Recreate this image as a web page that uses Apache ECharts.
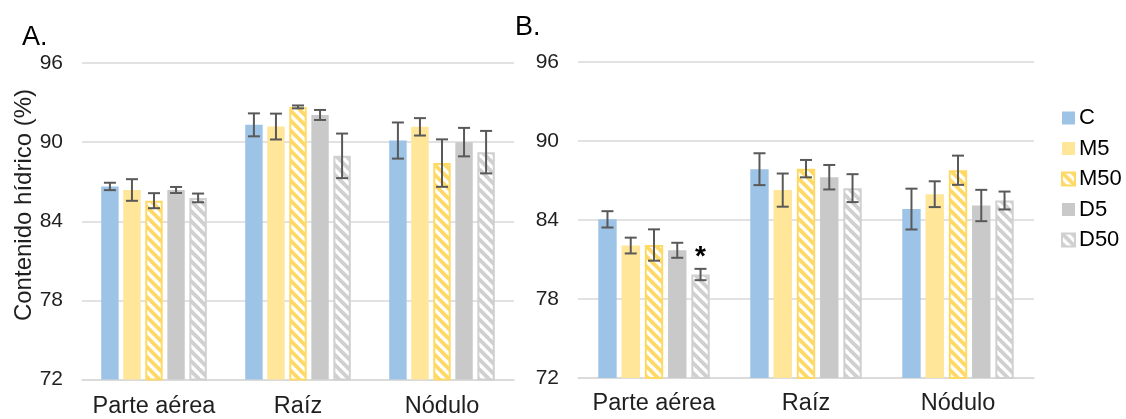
<!DOCTYPE html>
<html>
<head>
<meta charset="utf-8">
<script src="https://cdn.jsdelivr.net/npm/echarts@6/dist/echarts.min.js"></script>
<style>
  html, body { margin: 0; padding: 0; background: #ffffff; }
  #chart { width: 1126px; height: 419px; }
</style>
</head>
<body>
<div id="chart"></div>
<script>
// Water content (%) by plant part, two experiments (A and B)
const categories = ['Parte aérea', 'Raíz', 'Nódulo'];
const seriesNames = ['C', 'M5', 'M50', 'D5', 'D50'];
const yTicks = [72, 78, 84, 90, 96];

// Panel A: means and error (±)
const meanA_C   = [86.64, 91.31, 90.12];
const meanA_M5  = [86.37, 91.18, 91.16];
const meanA_M50 = [85.56, 92.67, 88.41];
const meanA_D5  = [86.37, 92.06, 90.00];
const meanA_D50 = [85.77, 88.96, 89.24];
const errA_C    = [0.28, 0.87, 1.37];
const errA_M5   = [0.82, 0.98, 0.66];
const errA_M50  = [0.57, 0.11, 1.80];
const errA_D5   = [0.23, 0.38, 1.08];
const errA_D50  = [0.33, 1.69, 1.61];

// Panel B: means and error (±)
const meanB_C   = [84.05, 87.86, 84.83];
const meanB_M5  = [82.06, 86.27, 85.96];
const meanB_M50 = [82.10, 87.90, 87.78];
const meanB_D5  = [81.70, 87.25, 85.10];
const meanB_D50 = [79.86, 86.42, 85.48];
const errB_C    = [0.62, 1.21, 1.55];
const errB_M5   = [0.60, 1.26, 0.98];
const errB_M50  = [1.19, 0.66, 1.11];
const errB_D5   = [0.57, 0.93, 1.19];
const errB_D50  = [0.43, 1.06, 0.68];

// Significance marks (panel B)
const sigB_D50 = ['*', '', ''];

const meansA = [meanA_C, meanA_M5, meanA_M50, meanA_D5, meanA_D50];
const errsA  = [errA_C, errA_M5, errA_M50, errA_D5, errA_D50];
const meansB = [meanB_C, meanB_M5, meanB_M50, meanB_D5, meanB_D50];
const errsB  = [errB_C, errB_M5, errB_M50, errB_D5, errB_D50];
const sigsB  = [['', '', ''], ['', '', ''], ['', '', ''], ['', '', ''], sigB_D50];

const FONT = '"Liberation Sans", Arial, sans-serif';
const TEXT = '#1f1f1f';
const GRID_LINE = '#d9d9d9';
const ERR_COLOR = '#595959';

// bar width and spacing as fractions of the category band
const BW = 0.121;
const GAP = 0.265;
const PITCH = BW * (1 + GAP);

function hatch(stripe) {
  const s = 10;
  const cv = document.createElement('canvas');
  cv.width = s; cv.height = s;
  const ctx = cv.getContext('2d');
  ctx.fillStyle = '#ffffff';
  ctx.fillRect(0, 0, s, s);
  ctx.strokeStyle = stripe;
  ctx.lineWidth = 3.8;
  ctx.lineCap = 'square';
  for (const k of [-s, 0, s]) {
    ctx.beginPath();
    ctx.moveTo(k, 0);
    ctx.lineTo(k + s, s);
    ctx.stroke();
  }
  return { image: cv, repeat: 'repeat' };
}

const styles = [
  { color: '#9dc3e6' },
  { color: '#ffe699' },
  { color: hatch('#ffd966'), borderColor: '#ffd966', borderWidth: 2 },
  { color: '#c9c9c9' },
  { color: hatch('#d0d0d0'), borderColor: '#d0d0d0', borderWidth: 2 }
];

function errRender(i) {
  return function (params, api) {
    const cat = api.value(0), m = api.value(1), e = api.value(2);
    const sig = api.value(3);
    const band = api.size([1, 0])[0];
    const bw = band * BW, pitch = band * PITCH;
    const off = -(4 * pitch + bw) / 2 + i * pitch + bw / 2;
    const x = api.coord([cat, m])[0] + off;
    const yTop = api.coord([cat, m + e])[1];
    const yBot = api.coord([cat, m - e])[1];
    const cap = 6;
    const st = { stroke: ERR_COLOR, lineWidth: 2 };
    const children = [
      { type: 'line', shape: { x1: x, y1: yTop, x2: x, y2: yBot }, style: st },
      { type: 'line', shape: { x1: x - cap, y1: yTop, x2: x + cap, y2: yTop }, style: st },
      { type: 'line', shape: { x1: x - cap, y1: yBot, x2: x + cap, y2: yBot }, style: st }
    ];
    if (sig && sig !== '-') {
      children.push({
        type: 'text',
        style: {
          text: sig, x: x, y: yTop + 2,
          fill: '#000', font: 'bold 28px ' + FONT,
          textAlign: 'center', textVerticalAlign: 'bottom'
        }
      });
    }
    return { type: 'group', children: children };
  };
}

function makeSeries(panel, means, errs, sigs) {
  const out = [];
  means.forEach((vals, i) => {
    out.push({
      name: seriesNames[i],
      type: 'bar',
      xAxisIndex: panel, yAxisIndex: panel,
      barWidth: (BW * 100) + '%',
      barGap: (GAP * 100) + '%',
      itemStyle: styles[i],
      data: vals,
      z: 2,
      animation: false
    });
  });
  means.forEach((vals, i) => {
    out.push({
      name: 'err-' + panel + '-' + seriesNames[i],
      type: 'custom',
      xAxisIndex: panel, yAxisIndex: panel,
      renderItem: errRender(i),
      data: vals.map((v, k) => [k, v, errs[i][k], sigs ? (sigs[i][k] || '-') : '-']),
      encode: { x: 0, y: 1 },
      z: 5,
      silent: true,
      animation: false
    });
  });
  return out;
}

function xAxis(idx, margin) {
  return {
    type: 'category', gridIndex: idx, data: categories,
    axisTick: { show: false },
    axisLine: { lineStyle: { color: GRID_LINE, width: 1.5 } },
    axisLabel: { interval: 0, color: TEXT, fontSize: 23.5, fontFamily: FONT, margin: margin, lineHeight: 23 }
  };
}
function yAxis(idx) {
  return {
    type: 'value', gridIndex: idx,
    min: yTicks[0], max: yTicks[yTicks.length - 1], interval: yTicks[1] - yTicks[0],
    axisLine: { show: false }, axisTick: { show: false },
    splitLine: { lineStyle: { color: GRID_LINE, width: 1.5 } },
    axisLabel: { color: TEXT, fontSize: 21, fontFamily: FONT, margin: 19 }
  };
}

const chart = echarts.init(document.getElementById('chart'), null, { renderer: 'canvas' });
chart.setOption({
  animation: false,
  backgroundColor: '#ffffff',
  grid: [
    { left: 82, top: 63, width: 432, height: 317 },
    { left: 578, top: 62, width: 456, height: 316 }
  ],
  xAxis: [xAxis(0, 16), xAxis(1, 14)],
  yAxis: [yAxis(0), yAxis(1)],
  legend: {
    data: seriesNames,
    orient: 'vertical',
    left: 1061, top: 107,
    padding: 0,
    itemWidth: 13, itemHeight: 13,
    itemGap: 8.5,
    icon: 'rect',
    textStyle: { color: '#000', fontSize: 22, fontFamily: FONT, lineHeight: 22, padding: [0, 0, 0, -1] }
  },
  graphic: [
    { type: 'text', left: 22, top: 24, style: { text: 'A.', font: '27px ' + FONT, fill: '#000' } },
    { type: 'text', left: 515, top: 14, style: { text: 'B.', font: '27px ' + FONT, fill: '#000' } },
    {
      type: 'text', x: 24, y: 205, rotation: Math.PI / 2,
      style: { text: 'Contenido hídrico (%)', font: '24px ' + FONT, fill: TEXT, textAlign: 'center', textVerticalAlign: 'middle' }
    }
  ],
  series: makeSeries(0, meansA, errsA, null).concat(makeSeries(1, meansB, errsB, sigsB))
});
</script>
</body>
</html>
